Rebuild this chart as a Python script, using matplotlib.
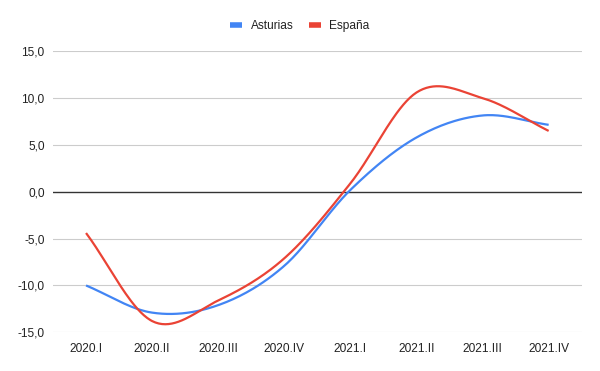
import numpy as np
import matplotlib
matplotlib.use("Agg")
import matplotlib.pyplot as plt
from matplotlib.lines import Line2D

categories = ["2020.I", "2020.II", "2020.III", "2020.IV", "2021.I", "2021.II", "2021.III", "2021.IV"]
asturias = [-10.0, -12.9, -12.1, -7.9, 0.2, 5.8, 8.15, 7.15]
espana = [-4.4, -13.8, -11.6, -7.1, 0.9, 10.6, 10.0, 6.5]
yticks = [-15, -10, -5, 0, 5, 10, 15]

BLUE = "#4285F4"
RED = "#EA4335"

plt.rcParams['font.family'] = ['Liberation Sans', 'DejaVu Sans']


def smooth(xs, ys, n=40):
    xs = np.asarray(xs, float)
    ys = np.asarray(ys, float)
    k = len(ys)
    m = np.zeros(k)
    for i in range(k):
        if i == 0:
            m[i] = ys[1] - ys[0]
        elif i == k - 1:
            m[i] = ys[-1] - ys[-2]
        else:
            m[i] = (ys[i + 1] - ys[i - 1]) / 2.0
    ox, oy = [], []
    for i in range(k - 1):
        t = np.linspace(0, 1, n, endpoint=(i == k - 2))
        h00 = 2 * t**3 - 3 * t**2 + 1
        h10 = t**3 - 2 * t**2 + t
        h01 = -2 * t**3 + 3 * t**2
        h11 = t**3 - t**2
        dx = xs[i + 1] - xs[i]
        ox.append(xs[i] + t * dx)
        oy.append(h00 * ys[i] + h10 * m[i] + h01 * ys[i + 1] + h11 * m[i + 1])
    return np.concatenate(ox), np.concatenate(oy)


fig = plt.figure(figsize=(6.0, 3.71), dpi=100)
ax = fig.add_axes([53 / 600, 1 - 332.3 / 371, (581.7 - 53) / 600, (332.3 - 51.3) / 371])

x = np.arange(len(categories))
for ys, c in [(asturias, BLUE), (espana, RED)]:
    sx, sy = smooth(x, ys)
    ax.plot(sx, sy, color=c, lw=1.6, solid_capstyle='butt', zorder=3)

ax.set_xlim(-0.5, len(categories) - 0.5)
ax.set_ylim(-15, 15)
ax.set_yticks(yticks)
ax.set_yticklabels([f"{v:.1f}".replace(".", ",") for v in yticks])
ax.set_xticks(x)
ax.set_xticklabels(categories)
for v in yticks:
    if v == 0:
        ax.axhline(v, color="#333333", lw=1.0, zorder=2)
    else:
        ax.axhline(v, color="#cccccc", lw=0.8, zorder=1)
for s in ax.spines.values():
    s.set_visible(False)
ax.tick_params(axis='both', length=0, labelsize=8.6, colors="#222222")
ax.tick_params(axis='y', pad=6)
ax.tick_params(axis='x', pad=8)

handles = [Line2D([], [], color=BLUE, lw=4, solid_capstyle='butt'),
           Line2D([], [], color=RED, lw=4, solid_capstyle='butt')]
fig.legend(handles, ["Asturias", "España"], loc='center', bbox_to_anchor=(0.5, 1 - 25.7 / 371),
           ncol=2, frameon=False, fontsize=8.6, handlelength=1.0, handletextpad=0.7,
           columnspacing=1.3, labelcolor="#222222")

fig.savefig("out.png", dpi=100)
